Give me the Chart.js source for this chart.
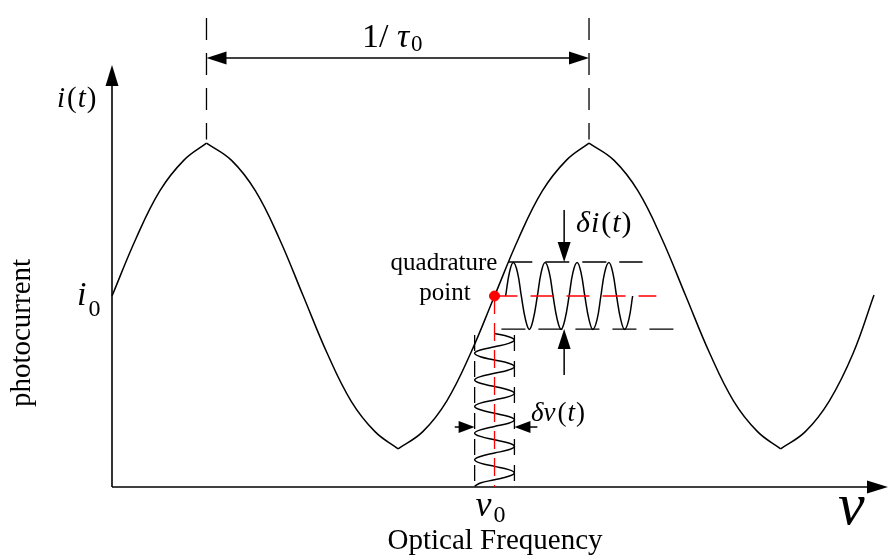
<!DOCTYPE html>
<html>
<head>
<meta charset="utf-8">
<title>Quadrature point</title>
<script src="https://cdn.jsdelivr.net/npm/chart.js@4.4.1/dist/chart.umd.min.js"></script>
<style>
  html, body { margin: 0; padding: 0; background: #fff; }
  #wrap { width: 894px; height: 557px; }
</style>
</head>
<body>
<div id="wrap"><canvas id="chart" width="894" height="557"></canvas></div>
<script>
// Interferometer transfer curve: nu in units of 1/tau0, i in units of i0
const curveNu = [0, 0.0625, 0.125, 0.1875, 0.247, 0.3125, 0.375, 0.4375, 0.5, 0.5625, 0.625, 0.6875, 0.748,
                 0.8125, 0.875, 0.9375, 1.0, 1.0625, 1.125, 1.1875, 1.247, 1.3125, 1.375, 1.4375, 1.5, 1.5625,
                 1.625, 1.6875, 1.748, 1.8125, 1.875, 1.9375, 1.992];
const curveI  = [1.00, 1.30, 1.55, 1.71, 1.80, 1.71, 1.55, 1.30, 1.00, 0.70, 0.45, 0.29, 0.20,
                 0.29, 0.45, 0.70, 1.00, 1.30, 1.55, 1.71, 1.80, 1.71, 1.55, 1.30, 1.00, 0.70,
                 0.45, 0.29, 0.20, 0.29, 0.45, 0.70, 1.005];

// operating point
const nu0 = 1.0;
const i0 = 1.0;
const peakNu = [0.247, 1.247];

// photocurrent ripple delta i(t) around the quadrature point
const diNu = [1.029, 1.039, 1.049, 1.060, 1.070, 1.081, 1.091, 1.101, 1.112, 1.122, 1.132,
              1.143, 1.153, 1.164, 1.174, 1.184, 1.195, 1.205, 1.216, 1.226, 1.236, 1.247,
              1.257, 1.268, 1.278, 1.288, 1.299, 1.309, 1.319, 1.330, 1.340, 1.351, 1.361];
const diI  = [1.00, 1.124, 1.175, 1.124, 1.00, 0.876, 0.825, 0.876,
              1.00, 1.124, 1.175, 1.124, 1.00, 0.876, 0.825, 0.876,
              1.00, 1.124, 1.175, 1.124, 1.00, 0.876, 0.825, 0.876,
              1.00, 1.124, 1.175, 1.124, 1.00, 0.876, 0.825, 0.876, 1.00];
const diTop = 1.178, diBottom = 0.827;

// frequency jitter delta nu(t) hanging under the quadrature point
const dnuI  = [0.804, 0.787, 0.769, 0.752, 0.734, 0.717, 0.700, 0.682, 0.665, 0.648, 0.630, 0.613,
               0.595, 0.578, 0.560, 0.543, 0.526, 0.508, 0.491, 0.473, 0.456, 0.439, 0.421, 0.404,
               0.386, 0.369, 0.352, 0.334, 0.317, 0.299, 0.282, 0.265, 0.247, 0.230, 0.212, 0.195,
               0.178, 0.160, 0.143, 0.125, 0.108, 0.091, 0.073, 0.056, 0.038, 0.021, 0.004];
const dnuNu = [1.0, 1.037, 1.052, 1.037, 1.0, 0.963, 0.948, 0.963,
               1.0, 1.037, 1.052, 1.037, 1.0, 0.963, 0.948, 0.963,
               1.0, 1.037, 1.052, 1.037, 1.0, 0.963, 0.948, 0.963,
               1.0, 1.037, 1.052, 1.037, 1.0, 0.963, 0.948, 0.963,
               1.0, 1.037, 1.052, 1.037, 1.0, 0.963, 0.948, 0.963,
               1.0, 1.037, 1.052, 1.037, 1.0, 0.963, 0.948];
const dnuLeft = 0.948, dnuRight = 1.052;

const SERIF = "'Liberation Serif', 'Times New Roman', serif";

function pts(xs, ys) {
    return xs.map((v, k) => ({ x: v, y: ys[k] }));
}

// break the curve at each peak/trough so the joins stay sharp
function splitAtExtrema(xs, ys) {
    const segs = [];
    let cur = [];
    for (let k = 0; k < xs.length; k++) {
        cur.push({ x: xs[k], y: ys[k] });
        const turn = k > 0 && k < xs.length - 1 && (ys[k] - ys[k - 1]) * (ys[k + 1] - ys[k]) < 0;
        if (turn) {
            segs.push(cur);
            cur = [{ x: xs[k], y: ys[k] }];
        }
    }
    segs.push(cur);
    return segs;
}

const lineBase = { showLine: true, pointRadius: 0, borderColor: '#000', borderWidth: 1.5, fill: false, clip: false };

const datasets = [
    // quadrature point marker (first so it sits on top)
    { data: [{ x: nu0, y: i0 }], pointRadius: 5, pointBackgroundColor: '#ff0000', pointBorderColor: '#ff0000', showLine: false },
    { ...lineBase, data: [{ x: nu0, y: i0 }, { x: 1.423, y: i0 }], borderColor: '#ff0000', borderWidth: 1.3, borderDash: [23, 13] },
    { ...lineBase, data: [{ x: nu0, y: i0 }, { x: nu0, y: 0 }], borderColor: '#ff0000', borderWidth: 1.3, borderDash: [18, 9] },
    { ...lineBase, data: pts(diNu, diI), tension: 0.4 },
    { ...lineBase, data: pts(dnuNu, dnuI), tension: 0.4 },
    { ...lineBase, data: [{ x: 1.036, y: diTop }, { x: 1.387, y: diTop }], borderWidth: 1.3, borderDash: [24, 13] },
    { ...lineBase, data: [{ x: 1.018, y: diBottom }, { x: 1.470, y: diBottom }], borderWidth: 1.3, borderDash: [24, 13] },
    { ...lineBase, data: [{ x: dnuLeft, y: 0.796 }, { x: dnuLeft, y: 0 }], borderWidth: 1.3, borderDash: [16, 10] },
    { ...lineBase, data: [{ x: dnuRight, y: 0.796 }, { x: dnuRight, y: 0 }], borderWidth: 1.3, borderDash: [16, 10] },
    ...peakNu.map(p => ({ ...lineBase, data: [{ x: p, y: 2.455 }, { x: p, y: 1.82 }], borderWidth: 1.3, borderDash: [22, 13] })),
    ...splitAtExtrema(curveNu, curveI).map(seg => ({ ...lineBase, data: seg, tension: 0.4 }))
];

function arrowHead(ctx, tx, ty, dx, dy, len, half) {
    const bx = tx - dx * len, by = ty - dy * len;
    ctx.beginPath();
    ctx.moveTo(tx, ty);
    ctx.lineTo(bx - dy * half, by + dx * half);
    ctx.lineTo(bx + dy * half, by - dx * half);
    ctx.closePath();
    ctx.fill();
}

function seg(ctx, x1, y1, x2, y2) {
    ctx.beginPath();
    ctx.moveTo(x1, y1);
    ctx.lineTo(x2, y2);
    ctx.stroke();
}

// draw a row of text pieces, each with its own font and vertical shift
function runs(ctx, x, base, parts) {
    let cx = x;
    parts.forEach(p => {
        ctx.font = p.f;
        ctx.fillText(p.t, cx, base + (p.dy || 0));
        cx += ctx.measureText(p.t).width + (p.gap || 0);
    });
}

const axesPlugin = {
    id: 'axes',
    beforeDraw(chart) {
        const { ctx, width, height } = chart;
        ctx.save();
        ctx.fillStyle = '#fff';
        ctx.fillRect(0, 0, width, height);
        ctx.restore();
    },
    beforeDatasetsDraw(chart) {
        const { ctx, chartArea: a } = chart;
        ctx.save();
        ctx.strokeStyle = '#000';
        ctx.fillStyle = '#000';
        ctx.lineWidth = 1.6;
        seg(ctx, a.left, a.bottom, a.left, a.top + 16);
        arrowHead(ctx, a.left, a.top, 0, -1, 21, 6.5);
        seg(ctx, a.left, a.bottom, a.right - 16, a.bottom);
        arrowHead(ctx, a.right, a.bottom, 1, 0, 21, 6.5);
        ctx.restore();
    },
    afterDatasetsDraw(chart) {
        const { ctx, scales: { x, y } } = chart;
        const px = v => x.getPixelForValue(v);
        const py = v => y.getPixelForValue(v);
        ctx.save();
        ctx.strokeStyle = '#000';
        ctx.fillStyle = '#000';
        ctx.lineWidth = 1.5;

        // period 1/tau0 between the two peaks
        const ya = py(2.246);
        seg(ctx, px(peakNu[0]) + 18, ya, px(peakNu[1]) - 18, ya);
        arrowHead(ctx, px(peakNu[0]), ya, -1, 0, 20, 6.5);
        arrowHead(ctx, px(peakNu[1]), ya, 1, 0, 20, 6.5);

        // delta i arrows
        const xdi = px(1.182);
        seg(ctx, xdi, py(1.450), xdi, py(diTop) - 18);
        arrowHead(ctx, xdi, py(diTop), 0, 1, 20, 6.5);
        seg(ctx, xdi, py(0.586), xdi, py(diBottom) + 18);
        arrowHead(ctx, xdi, py(diBottom), 0, -1, 20, 6.5);

        // delta nu arrows
        const ydn = py(0.314);
        seg(ctx, px(0.896), ydn, px(dnuLeft) - 14, ydn);
        arrowHead(ctx, px(dnuLeft), ydn, 1, 0, 16, 6);
        seg(ctx, px(1.112), ydn, px(dnuRight) + 14, ydn);
        arrowHead(ctx, px(dnuRight), ydn, -1, 0, 16, 6);

        // labels
        ctx.textBaseline = 'alphabetic';
        ctx.textAlign = 'left';
        runs(ctx, 362, 47, [
            { t: '1/ ', f: `34px ${SERIF}` },
            { t: 'τ', f: `italic 34px ${SERIF}`, gap: 2 },
            { t: '0', f: `23px ${SERIF}`, dy: 4 }
        ]);
        runs(ctx, 57, 107, [
            { t: 'i', f: `italic 29px ${SERIF}`, gap: 2 },
            { t: '(', f: `29px ${SERIF}`, gap: 1 },
            { t: 't', f: `italic 29px ${SERIF}`, gap: 1 },
            { t: ')', f: `29px ${SERIF}` }
        ]);
        runs(ctx, 77, py(i0) + 9, [
            { t: 'i', f: `italic 34px ${SERIF}`, gap: 2 },
            { t: '0', f: `24px ${SERIF}`, dy: 11 }
        ]);
        runs(ctx, 576, 232, [
            { t: 'δ', f: `italic 30px ${SERIF}`, gap: 1 },
            { t: 'i', f: `italic 30px ${SERIF}`, gap: 2 },
            { t: '(', f: `30px ${SERIF}`, gap: 1 },
            { t: 't', f: `italic 30px ${SERIF}`, gap: 1 },
            { t: ')', f: `30px ${SERIF}` }
        ]);
        runs(ctx, 531, 421, [
            { t: 'δν', f: `italic 27px ${SERIF}`, gap: 2 },
            { t: '(', f: `27px ${SERIF}`, gap: 1 },
            { t: 't', f: `italic 27px ${SERIF}`, gap: 1 },
            { t: ')', f: `27px ${SERIF}` }
        ]);
        runs(ctx, px(nu0) - 19, 516, [
            { t: 'ν', f: `italic 36px ${SERIF}`, gap: 2 },
            { t: '0', f: `24px ${SERIF}`, dy: 6 }
        ]);
        ctx.font = `italic 60px ${SERIF}`;
        ctx.fillText('ν', 838, 524);

        ctx.textAlign = 'center';
        ctx.font = `25px ${SERIF}`;
        ctx.fillText('quadrature', 444, 270);
        ctx.fillText('point', 445, 300);
        ctx.font = `29px ${SERIF}`;
        ctx.fillText('Optical Frequency', 495, 549);

        ctx.translate(22, 333);
        ctx.rotate(-Math.PI / 2);
        ctx.textBaseline = 'middle';
        ctx.font = `29px ${SERIF}`;
        ctx.fillText('photocurrent', 0, 0);
        ctx.restore();
    }
};

new Chart(document.getElementById('chart'), {
    type: 'scatter',
    data: { datasets },
    options: {
        responsive: false,
        animation: false,
        events: [],
        layout: { padding: { left: 112, right: 1, top: 65, bottom: 70 } },
        scales: {
            x: { type: 'linear', min: 0, max: 2.0286, display: false },
            y: { type: 'linear', min: 0, max: 2.2094, display: false }
        },
        plugins: { legend: { display: false }, tooltip: { enabled: false } }
    },
    plugins: [axesPlugin]
});
</script>
</body>
</html>
